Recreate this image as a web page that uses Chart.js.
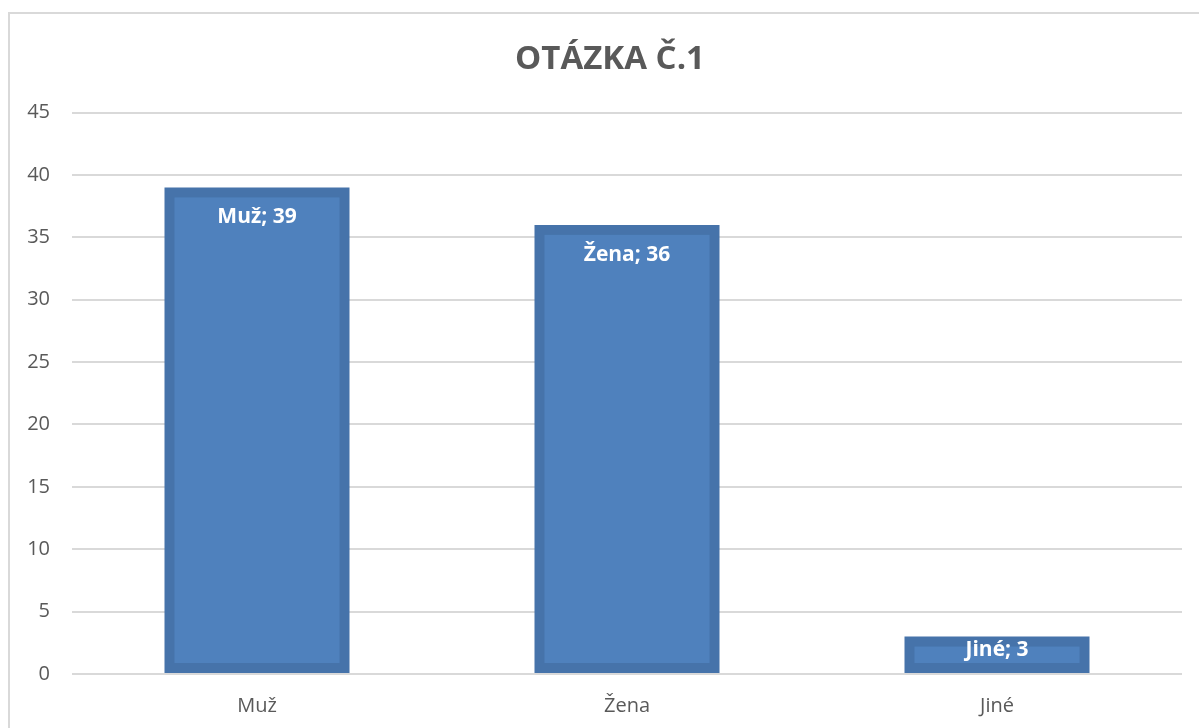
<!DOCTYPE html>
<html>
<head>
<meta charset="utf-8">
<script src="https://cdn.jsdelivr.net/npm/chart.js@4.4.1/dist/chart.umd.min.js"></script>
<style>
  body { margin: 0; background: #fff; }
  #frame { position: absolute; left: 8px; top: 12px; width: 1200px; height: 730px; border: 2px solid #d9d9d9; box-sizing: border-box; }
  #wrap { position: absolute; left: 0; top: 0; width: 1199px; height: 728px; }
</style>
</head>
<body>
<div id="frame"></div>
<div id="wrap"><canvas id="chart"></canvas></div>
<script>
const categories = ["Muž", "Žena", "Jiné"];
const values = [39, 36, 3];
const yTicks = [0, 5, 10, 15, 20, 25, 30, 35, 40, 45];

const grey = "#595959";
const fillColor = "#4f81bd";
const edgeColor = "#4673aa";
const edge = 10;

// inner lighter fill + labels like Excel's "inside end": "Muž; 39"
const barLabels = {
  id: "barLabels",
  afterLayout(chart) {
    // centre the title a bit right, as in the original
    if (chart.titleBlock) chart.titleBlock.left += 38;
  },
  afterDatasetsDraw(chart) {
    const ctx = chart.ctx;
    const meta = chart.getDatasetMeta(0);
    ctx.save();
    meta.data.forEach((bar) => {
      const p = bar.getProps(["x", "y", "base", "width"], true);
      const left = p.x - p.width / 2 + edge;
      const top = Math.min(p.y, p.base) + edge;
      const w = p.width - 2 * edge;
      const h = Math.abs(p.base - p.y) - 2 * edge;
      if (w > 0 && h > 0) {
        ctx.fillStyle = fillColor;
        ctx.fillRect(left, top, w, h);
      }
    });
    ctx.fillStyle = "#ffffff";
    ctx.font = "bold 21px 'Open Sans'";
    ctx.textAlign = "center";
    ctx.textBaseline = "middle";
    meta.data.forEach((bar, i) => {
      const h = bar.base - bar.y;
      const off = Math.min(30, h / 2.8);
      ctx.fillText(categories[i] + "; " + values[i], bar.x, bar.y + off);
    });
    ctx.restore();
  }
};

const ctx = document.getElementById("chart").getContext("2d");
new Chart(ctx, {
  type: "bar",
  data: {
    labels: categories,
    datasets: [{
      data: values,
      backgroundColor: edgeColor,
      borderWidth: 0,
      categoryPercentage: 1,
      barPercentage: 0.5,
    }],
  },
  options: {
    responsive: true,
    maintainAspectRatio: false,
    animation: false,
    layout: { padding: { left: 0, right: 17, top: 0, bottom: 0 } },
    plugins: {
      legend: { display: false },
      tooltip: { enabled: false },
      title: {
        display: true,
        text: "OTÁZKA Č.1",
        color: grey,
        font: { family: "'Open Sans'", size: 33, weight: "bold" },
        padding: { top: 40, bottom: 33 },
      },
    },
    scales: {
      x: {
        grid: { display: false },
        border: { display: false },
        ticks: { color: grey, font: { family: "'Open Sans'", size: 20 }, padding: 12 },
        afterFit(scale) { scale.height = 54; },
      },
      y: {
        min: 0,
        max: 45,
        afterBuildTicks(scale) { scale.ticks = yTicks.map(v => ({ value: v })); },
        grid: { color: "#d9d9d9", lineWidth: 2, drawTicks: false },
        border: { display: false },
        ticks: { color: grey, font: { family: "'Open Sans'", size: 20 }, padding: 22 },
        afterFit(scale) { scale.width = 72; },
      },
    },
  },
  plugins: [barLabels],
});
</script>
</body>
</html>
